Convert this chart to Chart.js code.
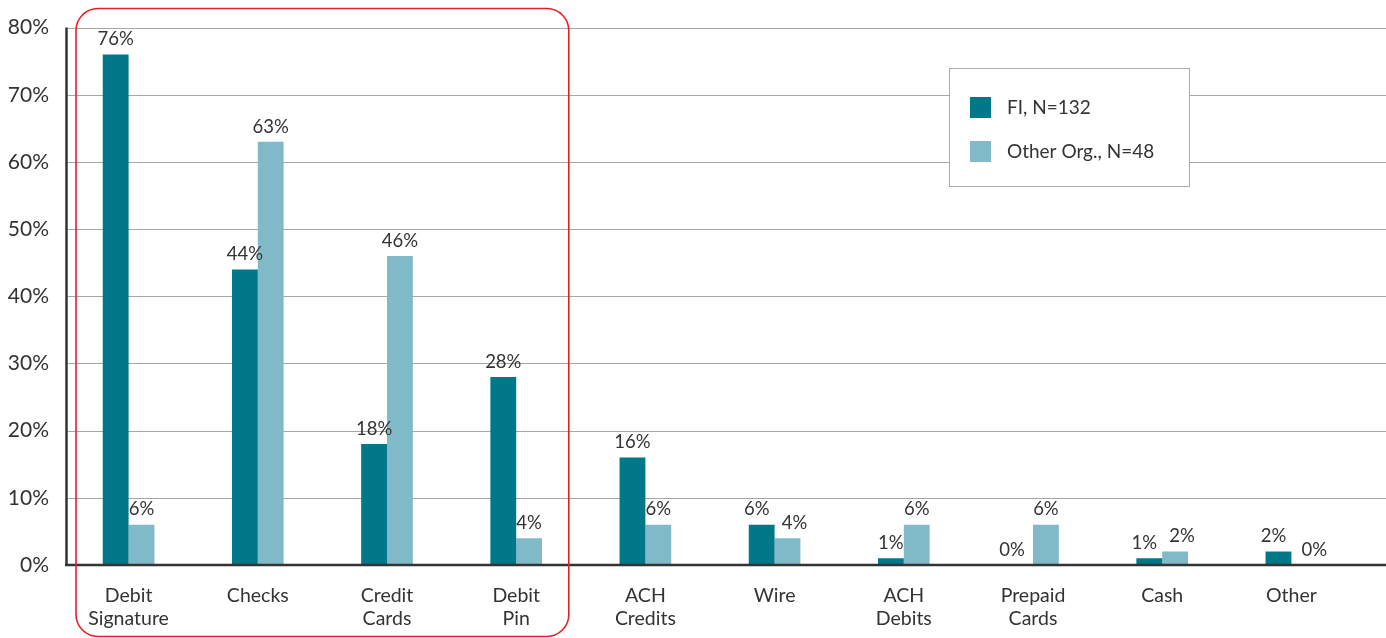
<!DOCTYPE html>
<html><head><meta charset="utf-8">
<script src="https://cdn.jsdelivr.net/npm/chart.js@4.4.1/dist/chart.umd.min.js"></script>
<style>html,body{margin:0;padding:0;background:#fff;overflow:hidden}#wrap{width:1386px;height:638px;position:relative}</style>
</head><body><div id="wrap"><canvas id="c"></canvas></div>
<script>
const categories = [["Debit","Signature"],["Checks"],["Credit","Cards"],["Debit","Pin"],["ACH","Credits"],["Wire"],["ACH","Debits"],["Prepaid","Cards"],["Cash"],["Other"]];
const fiValues = [76,44,18,28,16,6,1,0,1,2];
const otherValues = [6,63,46,4,6,4,6,6,2,0];
const seriesNames = ["FI, N=132","Other Org., N=48"];
const yTicks = [0,10,20,30,40,50,60,70,80];
const highlightFrom = 0, highlightTo = 3;

const FONT = "Lato, 'Open Sans', sans-serif";
const DARK = "#00788a", LIGHT = "#80bac8";

const gridAll = {
  id:'gridAll',
  beforeDatasetsDraw(chart){
    const {ctx, chartArea, scales:{y}} = chart;
    ctx.save(); ctx.strokeStyle="#a6a6a6"; ctx.lineWidth=1;
    yTicks.forEach(v=>{ if(v===0) return; const py=Math.round(y.getPixelForValue(v))+0.5;
      ctx.beginPath(); ctx.moveTo(chartArea.left+2,py); ctx.lineTo(chart.width,py); ctx.stroke();});
    ctx.restore();
  },
  afterDatasetsDraw(chart){
    const {ctx, chartArea, scales:{y}} = chart;
    const by=y.getPixelForValue(0);
    ctx.save(); ctx.strokeStyle="#333"; ctx.lineWidth=2.5;
    ctx.beginPath(); ctx.moveTo(chartArea.left+1,by); ctx.lineTo(chart.width,by); ctx.stroke();
    ctx.beginPath(); ctx.moveTo(chartArea.left+2.5,by); ctx.lineTo(chartArea.left+2.5,chartArea.top); ctx.stroke();
    ctx.restore();
  }
};
const valueLabels = {
  id:'valueLabels',
  afterDatasetsDraw(chart){
    const ctx=chart.ctx; ctx.save();
    ctx.font="18.5px "+FONT; ctx.fillStyle="#333"; ctx.textAlign="center"; ctx.textBaseline="bottom";
    chart.data.datasets.forEach((ds,i)=>{
      chart.getDatasetMeta(i).data.forEach((bar,j)=>{
        let dx = 0;
        const a = fiValues[j], b = otherValues[j];
        if (Math.abs(a-b) < 4) dx = (i===0 ? -5 : 7);
        if (i===0 && a===0) dx = -8;
        if (i===1 && b===0) dx = 10;
        ctx.fillText(ds.data[j]+"%", bar.x+dx, bar.y-6);
      });
    });
    ctx.restore();
  }
};
const extras = {
  id:'extras',
  afterDraw(chart){
    const ctx=chart.ctx, x=chart.scales.x;
    const half = (x.getPixelForValue(1)-x.getPixelForValue(0))/2;
    const l = x.getPixelForValue(highlightFrom)-half+12, r = x.getPixelForValue(highlightTo)+half-12;
    ctx.save(); ctx.strokeStyle="#e3202a"; ctx.lineWidth=1.6;
    ctx.beginPath(); ctx.roundRect(l, 8.5, r-l, 628, 22); ctx.stroke();
    const bx=949.5, byy=68.5, bw=240, bh=118;
    ctx.fillStyle="#fff"; ctx.fillRect(bx,byy,bw,bh);
    ctx.strokeStyle="#aaa"; ctx.lineWidth=1; ctx.strokeRect(bx,byy,bw,bh);
    ctx.font="19px "+FONT; ctx.textBaseline="middle"; ctx.textAlign="left";
    chart.data.datasets.forEach((ds,i)=>{
      const cy = 107 + i*44;
      ctx.fillStyle=ds.backgroundColor; ctx.fillRect(970, cy-10, 21, 21);
      ctx.fillStyle="#333"; ctx.fillText(ds.label, 1007, cy+1);
    });
    ctx.restore();
  }
};

new Chart(document.getElementById('c'), {
  type:'bar',
  data:{ labels:categories, datasets:[
    {label:seriesNames[0], data:fiValues, backgroundColor:DARK, categoryPercentage:0.4, barPercentage:1.0},
    {label:seriesNames[1], data:otherValues, backgroundColor:LIGHT, categoryPercentage:0.4, barPercentage:1.0}
  ]},
  options:{
    responsive:true, maintainAspectRatio:false, animation:false,
    layout:{padding:{top:20,right:30,left:0,bottom:0}},
    plugins:{legend:{display:false}, tooltip:{enabled:false}},
    scales:{
      x:{ grid:{display:false, drawTicks:false}, border:{display:false},
          ticks:{color:"#333", font:{family:FONT,size:19.5,lineHeight:1.2}, padding:19, maxRotation:0, autoSkip:false},
          afterFit(s){ s.height = 73; } },
      y:{ min:0, max:80, afterBuildTicks(s){ s.ticks = yTicks.map(v=>({value:v})); },
          grid:{display:false, drawTicks:false},
          border:{display:false},
          ticks:{color:"#333", font:{family:FONT,size:21}, padding:15, callback:v=>v+"%"},
          afterFit(s){ s.width = 64; } }
    }
  },
  plugins:[gridAll, valueLabels, extras]
});
</script></body></html>
